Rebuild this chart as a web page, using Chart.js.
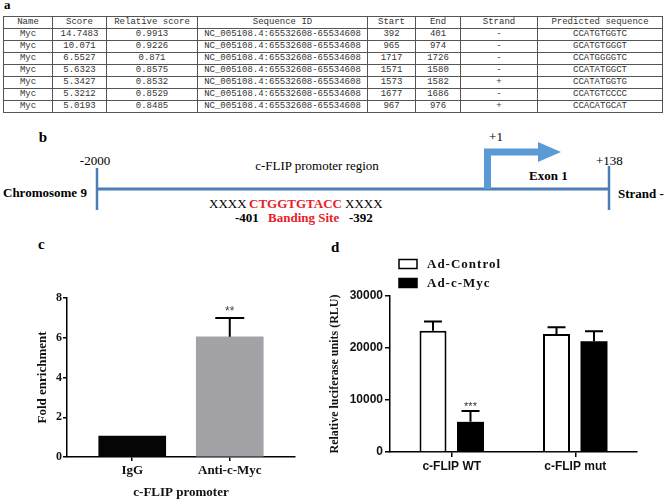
<!DOCTYPE html>
<html><head><meta charset="utf-8">
<script src="https://cdn.jsdelivr.net/npm/chart.js@4/dist/chart.umd.min.js"></script>
<style>
html,body{margin:0;padding:0;background:#fff;}
body{width:665px;height:500px;position:relative;overflow:hidden;font-family:"Liberation Serif",serif;}
.lbl{position:absolute;font-weight:bold;line-height:1;color:#000;}
table{position:absolute;left:3px;top:16px;width:659px;border-collapse:collapse;table-layout:fixed;font-family:"Liberation Mono",monospace;font-size:9px;color:#333;}
td{border:1px solid #555;padding:0;height:11px;line-height:11px;text-align:center;white-space:nowrap;overflow:hidden;}
svg{position:absolute;left:0;top:0;}
canvas{position:absolute;}
</style></head>
<body>
<div class="lbl" style="left:4px;top:-2px;font-size:13px;">a</div>
<table id="tbl"></table>
<svg width="665" height="500" viewBox="0 0 665 500">
  <g font-family="Liberation Serif" font-size="13" dominant-baseline="central">
    <text x="43" y="137" font-size="15" font-weight="bold" text-anchor="middle">b</text>
    <text x="95" y="160" text-anchor="middle">-2000</text>
    <text x="317" y="165" text-anchor="middle">c-FLIP promoter region</text>
    <text x="496" y="136" text-anchor="middle">+1</text>
    <text x="596" y="160">+138</text>
    <text x="529" y="175" font-weight="bold">Exon 1</text>
    <text x="3" y="192" font-weight="bold">Chromosome 9</text>
    <text x="618" y="193" font-weight="bold">Strand -</text>
    <text x="209" y="203">XXXX</text>
    <text x="249" y="203" font-weight="bold" fill="#e8202a">CTGGTGTACC</text>
    <text x="345" y="203">XXXX</text>
    <text x="235" y="217" font-weight="bold">-401</text>
    <text x="268" y="217" font-weight="bold" fill="#e8202a">Banding Site</text>
    <text x="349" y="217" font-weight="bold">-392</text>
  </g>
  <line x1="97" y1="189" x2="609" y2="189" stroke="#4a7eb6" stroke-width="3"/>
  <line x1="97" y1="168" x2="97" y2="210" stroke="#4a7eb6" stroke-width="2.5"/>
  <line x1="609" y1="166" x2="609" y2="210" stroke="#4a7eb6" stroke-width="2.5"/>
  <path d="M487.5 189 V152 H540" fill="none" stroke="#5b9bd5" stroke-width="7"/>
  <polygon points="538,142 561,152 538,162" fill="#5b9bd5"/>
</svg>
<div class="lbl" style="left:38px;top:237px;font-size:15px;">c</div>
<div class="lbl" style="left:331px;top:240px;font-size:15px;">d</div>
<canvas id="chartC" width="320" height="270" style="left:0;top:230px;"></canvas>
<canvas id="chartD" width="340" height="270" style="left:325px;top:230px;"></canvas>
<script>
// ---------- a: table ----------
const tableHeader = ['Name','Score','Relative score','Sequence ID','Start','End','Strand','Predicted sequence'];
const colWidths = [49,54,91,170,48,45,77,125];
const names = ['Myc','Myc','Myc','Myc','Myc','Myc','Myc'];
const scores = ['14.7483','10.071','6.5527','5.6323','5.3427','5.3212','5.0193'];
const relScores = ['0.9913','0.9226','0.871','0.8575','0.8532','0.8529','0.8485'];
const seqIds = ['NC_005108.4:65532608-65534608','NC_005108.4:65532608-65534608','NC_005108.4:65532608-65534608','NC_005108.4:65532608-65534608','NC_005108.4:65532608-65534608','NC_005108.4:65532608-65534608','NC_005108.4:65532608-65534608'];
const starts = ['392','965','1717','1571','1573','1677','967'];
const ends = ['401','974','1726','1580','1582','1686','976'];
const strands = ['-','-','-','-','+','-','+'];
const predSeqs = ['CCATGTGGTC','GCATGTGGGT','CCATGGGGTC','CCATATGGCT','CCATATGGTG','CCATGTCCCC','CCACATGCAT'];

// ---------- c: ChIP ----------
const chipCategories = ['IgG','Anti-c-Myc'];
const chipValues = [1.05, 6.05];
const chipErrors = [0, 0.95];
const chipStars = ['', '**'];
const chipTicks = [0,2,4,6,8];

// ---------- d: luciferase ----------
const lucCategories = ['c-FLIP WT','c-FLIP mut'];
const lucSeriesNames = ['Ad-Control','Ad-c-Myc'];
const lucControl = [23300, 22700];
const lucControlErr = [1800, 1300];
const lucMyc = [5800, 21300];
const lucMycErr = [2100, 1900];
const lucMycStars = ['***', ''];
const lucTicks = [0,10000,20000,30000];

// build table
(function(){
  const t = document.getElementById('tbl');
  const cg = document.createElement('colgroup');
  colWidths.forEach(w=>{const c=document.createElement('col');c.style.width=w+'px';cg.appendChild(c);});
  t.appendChild(cg);
  const addRow = cells => {
    const tr = document.createElement('tr');
    cells.forEach(v=>{const td=document.createElement('td');td.textContent=v;tr.appendChild(td);});
    t.appendChild(tr);
  };
  addRow(tableHeader);
  names.forEach((n,i)=>addRow([n,scores[i],relScores[i],seqIds[i],starts[i],ends[i],strands[i],predSeqs[i]]));
})();

Chart.defaults.font.family = 'Liberation Serif';
Chart.defaults.color = '#111';

const errorBarPlugin = {
  id:'errorBars',
  afterDatasetsDraw(chart, args, opts){
    const ctx = chart.ctx, ys = chart.scales.y;
    chart.data.datasets.forEach((ds,di)=>{
      if(!ds.errors) return;
      const meta = chart.getDatasetMeta(di);
      meta.data.forEach((bar,i)=>{
        const raw = ds.data[i];
        const val = (typeof raw === 'object') ? raw.y : raw;
        const e = ds.errors[i];
        if(!e) return;
        const top = ys.getPixelForValue(val+e);
        ctx.save();
        ctx.strokeStyle = '#000'; ctx.lineWidth = opts.lineWidth;
        ctx.beginPath();
        ctx.moveTo(bar.x, bar.y); ctx.lineTo(bar.x, top);
        ctx.moveTo(bar.x-opts.cap/2, top); ctx.lineTo(bar.x+opts.cap/2, top);
        ctx.stroke();
        if(ds.stars && ds.stars[i]){
          ctx.fillStyle = opts.starColor; ctx.font = opts.starFont;
          ctx.textAlign = 'center'; ctx.textBaseline = 'alphabetic';
          ctx.fillText(ds.stars[i], bar.x, top - opts.starGap);
        }
        ctx.restore();
      });
    });
  }
};

const boxLegendPlugin = {
  id:'boxLegend',
  afterDraw(chart, args, opts){
    if(!opts.display) return;
    const ctx = chart.ctx;
    chart.data.datasets.forEach((ds,i)=>{
      const x = opts.x, y = opts.y + i*opts.rowGap;
      ctx.save();
      ctx.fillStyle = ds.backgroundColor; ctx.fillRect(x,y,opts.boxW,opts.boxH);
      ctx.strokeStyle = '#000'; ctx.lineWidth = 1.5; ctx.strokeRect(x,y,opts.boxW,opts.boxH);
      ctx.fillStyle = '#111'; ctx.font = opts.font; ctx.textBaseline = 'middle';
      try{ ctx.letterSpacing = opts.letterSpacing; }catch(e){}
      ctx.fillText(ds.label, x+opts.boxW+10, y+opts.boxH/2+1);
      ctx.restore();
    });
  }
};

const serifBold = (size)=>({family:'Liberation Serif', weight:'bold', size});
const sansBold = (size)=>({family:'Liberation Sans', weight:'bold', size});

// chart c
new Chart(document.getElementById('chartC'), {
  type:'bar',
  data:{
    datasets:[{
      data: chipValues.map((v,i)=>({x:i, y:v})),
      errors: chipErrors,
      stars: chipStars,
      backgroundColor:['#050505','#a3a3a7'],
      borderWidth:0,
      barThickness:67
    }]
  },
  options:{
    responsive:false, animation:false, devicePixelRatio:1,
    layout:{padding:{left:0, top:68, right:25, bottom:0}},
    plugins:{legend:{display:false}, tooltip:{enabled:false},
      errorBars:{lineWidth:2, cap:29, starColor:'#444', starFont:'12px "Liberation Sans"', starGap:3}},
    scales:{
      x:{type:'linear', min:-0.669, max:1.669, bounds:'data', offset:false, grace:0,
        afterDataLimits: s=>{ s.min = -0.669; s.max = 1.669; },
        afterBuildTicks: s=>{ s.ticks = chipCategories.map((c,i)=>({value:i})); },
        afterFit: s=>{ s.height = 43; },
        ticks:{callback:(v)=>chipCategories[v], font:serifBold(13), color:'#111', padding:2, autoSkip:false, maxRotation:0, includeBounds:false},
        grid:{display:true, offset:false, drawOnChartArea:false, tickLength:4, color:'#000', lineWidth:1.5},
        border:{color:'#000', width:1.5},
        title:{display:true, text:'c-FLIP promoter', font:serifBold(13), color:'#111', padding:{top:0,bottom:0}}
      },
      y:{min:0, max:8,
        afterBuildTicks: s=>{ s.ticks = chipTicks.map(v=>({value:v})); },
        afterFit: s=>{ s.width = 67; },
        ticks:{font:serifBold(12), color:'#111', padding:1},
        grid:{display:true, drawOnChartArea:false, tickLength:4, color:'#000', lineWidth:1.5},
        border:{color:'#000', width:1.5},
        title:{display:true, text:'Fold enrichment', font:serifBold(13), color:'#111', padding:{top:35,bottom:0}}
      }
    }
  },
  plugins:[errorBarPlugin]
});

// chart d
new Chart(document.getElementById('chartD'), {
  type:'bar',
  data:{
    labels: lucCategories,
    datasets:[
      {label:lucSeriesNames[0], data:lucControl, errors:lucControlErr, backgroundColor:'#ffffff', borderColor:'#000', borderWidth:2},
      {label:lucSeriesNames[1], data:lucMyc, errors:lucMycErr, stars:lucMycStars, backgroundColor:'#000000', borderColor:'#000', borderWidth:0}
    ]
  },
  options:{
    responsive:false, animation:false, devicePixelRatio:1,
    datasets:{bar:{barPercentage:0.72, categoryPercentage:0.607}},
    layout:{padding:{left:0, top:66, right:28, bottom:0}},
    plugins:{legend:{display:false}, tooltip:{enabled:false},
      errorBars:{lineWidth:2, cap:18, starColor:'#333', starFont:'11px "Liberation Sans"', starGap:1},
      boxLegend:{display:true, x:74, y:29.5, rowGap:19, boxW:18, boxH:9, font:'bold 13px "Liberation Serif"', letterSpacing:'1px'}},
    scales:{
      x:{afterFit: s=>{ s.height = 48; },
        ticks:{font:sansBold(12), color:'#111', padding:2},
        grid:{display:true, drawOnChartArea:false, tickLength:5, color:'#000', lineWidth:1.5, offset:false},
        border:{color:'#000', width:1.5}
      },
      y:{min:0, max:30000,
        afterBuildTicks: s=>{ s.ticks = lucTicks.map(v=>({value:v})); },
        afterFit: s=>{ s.width = 65; },
        ticks:{font:sansBold(12), color:'#111', padding:2, callback:(v)=>String(v)},
        grid:{display:true, drawOnChartArea:false, tickLength:5, color:'#000', lineWidth:1.5},
        border:{color:'#000', width:1.5},
        title:{display:true, text:'Relative luciferase units (RLU)', font:serifBold(12), color:'#111', padding:{top:3,bottom:0}}
      }
    }
  },
  plugins:[errorBarPlugin, boxLegendPlugin]
});
</script>
</body></html>
